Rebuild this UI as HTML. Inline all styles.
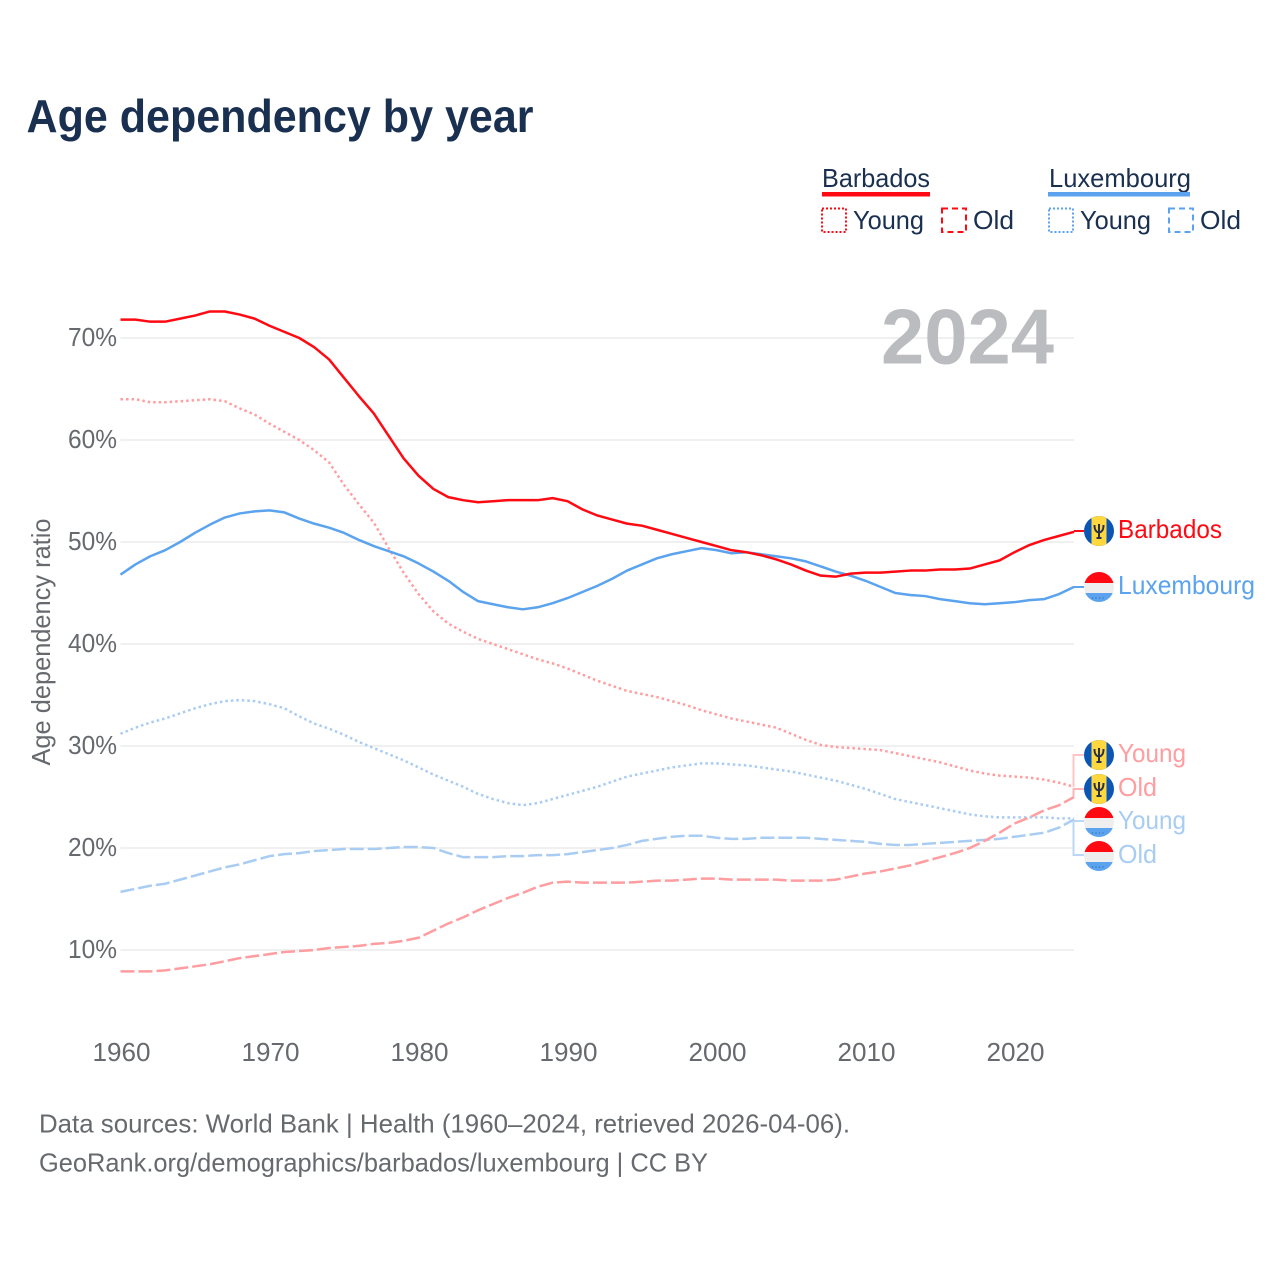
<!DOCTYPE html>
<html lang="en">
<head>
<meta charset="utf-8">
<title>Age dependency by year</title>
<style>
html,body{margin:0;padding:0;background:#fff;width:1280px;height:1280px;overflow:hidden}
svg{display:block}
text{font-family:"Liberation Sans",sans-serif}
</style>
</head>
<body>
<svg id="chart" width="1280" height="1280" viewBox="0 0 1280 1280" xmlns="http://www.w3.org/2000/svg">
<defs>
  <clipPath id="flag-clip"><circle cx="0" cy="0" r="15"/></clipPath>
  <g id="flag-bb" clip-path="url(#flag-clip)">
    <rect x="-15" y="-15" width="30" height="30" fill="#0b55b4"/>
    <rect x="-7.5" y="-15" width="15" height="30" fill="#ffd83f"/>
    <path d="M-4.5 -6 C-4.5 -1 -3 1 0 1.5 C3 1 4.5 -1 4.5 -6 M0 -7 V7 M-2.5 7 H2.5" fill="none" stroke="#29304a" stroke-width="2"/>
  </g>
  <g id="flag-lu" clip-path="url(#flag-clip)">
    <rect x="-15" y="-15" width="30" height="11" fill="#ff0a12"/>
    <rect x="-15" y="-4" width="30" height="10" fill="#eeeeee"/>
    <rect x="-15" y="6" width="30" height="10" fill="#5ba3ee"/>
    <path d="M-7 11 H7" stroke="#2b5c96" stroke-width="1" stroke-dasharray="1 2.5" fill="none"/>
  </g>
</defs>

<text x="26.5" y="132" font-size="46" font-weight="700" fill="#1a3050" textLength="507" lengthAdjust="spacingAndGlyphs">Age dependency by year</text>

<g font-size="26" fill="#1a3050">
  <text x="822" y="187" textLength="108" lengthAdjust="spacingAndGlyphs">Barbados</text>
  <rect x="822" y="192" width="108" height="4.5" fill="#ff0a12"/>
  <rect x="822" y="208.5" width="24" height="23.5" fill="none" stroke="#ff0a12" stroke-width="2" stroke-dasharray="2 2"/>
  <text x="853" y="229" textLength="71" lengthAdjust="spacingAndGlyphs">Young</text>
  <rect x="942" y="208.5" width="24" height="23.5" fill="none" stroke="#ff0a12" stroke-width="2" stroke-dasharray="6 4"/>
  <text x="973" y="229" textLength="41" lengthAdjust="spacingAndGlyphs">Old</text>
  <text x="1049" y="187" textLength="142" lengthAdjust="spacingAndGlyphs">Luxembourg</text>
  <rect x="1048" y="192" width="142" height="4.5" fill="#5ba3ee"/>
  <rect x="1049" y="208.5" width="24" height="23.5" fill="none" stroke="#5ba3ee" stroke-width="2" stroke-dasharray="2 2"/>
  <text x="1080" y="229" textLength="71" lengthAdjust="spacingAndGlyphs">Young</text>
  <rect x="1169" y="208.5" width="24" height="23.5" fill="none" stroke="#5ba3ee" stroke-width="2" stroke-dasharray="6 4"/>
  <text x="1200" y="229" textLength="41" lengthAdjust="spacingAndGlyphs">Old</text>
</g>

<g id="grid"></g>
<g id="yticks"></g>
<g id="xticks"></g>

<text x="881" y="363.5" font-size="78" font-weight="700" fill="#bbbcbf" textLength="173" lengthAdjust="spacingAndGlyphs">2024</text>

<text transform="translate(50 642) rotate(-90)" text-anchor="middle" font-size="26" fill="#666a6e" textLength="247" lengthAdjust="spacingAndGlyphs">Age dependency ratio</text>

<g id="series"></g>

<g fill="none" stroke-width="2">
  <path d="M1074 531 H1084" stroke="#ff0a12"/>
  <path d="M1074 587 H1084" stroke="#5ba3ee"/>
  <path d="M1073.5 787 V755 H1084" stroke="#ffc4c6"/>
  <path d="M1073.5 796 V789 H1084" stroke="#ffb4b6"/>
  <path d="M1073.5 821 H1084" stroke="#bcd7f5"/>
  <path d="M1073.5 821 V855 H1084" stroke="#bcd7f5"/>
</g>

<g font-size="26">
  <use href="#flag-bb" x="1099" y="531"/>
  <text x="1118" y="538" fill="#ff0a12" textLength="104" lengthAdjust="spacingAndGlyphs">Barbados</text>
  <use href="#flag-lu" x="1099" y="587"/>
  <text x="1118" y="594" fill="#5ba3ee" textLength="137" lengthAdjust="spacingAndGlyphs">Luxembourg</text>
  <use href="#flag-bb" x="1099" y="755"/>
  <text x="1118" y="762" fill="#ff9da0" textLength="68" lengthAdjust="spacingAndGlyphs">Young</text>
  <use href="#flag-bb" x="1099" y="789"/>
  <text x="1118" y="796" fill="#ff9da0" textLength="39" lengthAdjust="spacingAndGlyphs">Old</text>
  <use href="#flag-lu" x="1099" y="822"/>
  <text x="1118" y="829" fill="#a9ccf3" textLength="68" lengthAdjust="spacingAndGlyphs">Young</text>
  <use href="#flag-lu" x="1099" y="856"/>
  <text x="1118" y="863" fill="#a9ccf3" textLength="39" lengthAdjust="spacingAndGlyphs">Old</text>
</g>

<g font-size="26" fill="#666a6e">
  <text x="39" y="1132.5" textLength="811" lengthAdjust="spacingAndGlyphs">Data sources: World Bank | Health (1960–2024, retrieved 2026-04-06).</text>
  <text x="39" y="1171.5" textLength="669" lengthAdjust="spacingAndGlyphs">GeoRank.org/demographics/barbados/luxembourg | CC BY</text>
</g>
</svg>

<script>
var startYear = 1960;
var yTickValues = [10, 20, 30, 40, 50, 60, 70];
var xTickValues = [1960, 1970, 1980, 1990, 2000, 2010, 2020];

var barbadosTotal = [71.8,71.8,71.6,71.6,71.9,72.2,72.6,72.6,72.3,71.9,71.2,70.6,70.0,69.1,67.9,66.1,64.3,62.6,60.4,58.2,56.5,55.2,54.4,54.1,53.9,54.0,54.1,54.1,54.1,54.3,54.0,53.2,52.6,52.2,51.8,51.6,51.2,50.8,50.4,50.0,49.6,49.2,49.0,48.7,48.3,47.8,47.2,46.7,46.6,46.9,47.0,47.0,47.1,47.2,47.2,47.3,47.3,47.4,47.8,48.2,49.0,49.7,50.2,50.6,51.0];
var luxembourgTotal = [46.8,47.8,48.6,49.2,50.0,50.9,51.7,52.4,52.8,53.0,53.1,52.9,52.3,51.8,51.4,50.9,50.2,49.6,49.1,48.6,47.9,47.1,46.2,45.1,44.2,43.9,43.6,43.4,43.6,44.0,44.5,45.1,45.7,46.4,47.2,47.8,48.4,48.8,49.1,49.4,49.2,48.9,49.0,48.8,48.6,48.4,48.1,47.6,47.1,46.7,46.2,45.6,45.0,44.8,44.7,44.4,44.2,44.0,43.9,44.0,44.1,44.3,44.4,44.9,45.6];
var barbadosYoung = [64.0,64.0,63.7,63.7,63.8,63.9,64.0,63.8,63.1,62.5,61.6,60.8,60.0,59.0,57.8,55.6,53.7,51.9,49.4,47.0,44.9,43.2,42.0,41.2,40.5,40.0,39.5,39.0,38.5,38.1,37.6,37.0,36.4,35.9,35.4,35.1,34.8,34.4,34.0,33.5,33.1,32.7,32.4,32.1,31.8,31.2,30.6,30.1,29.9,29.8,29.7,29.6,29.3,29.0,28.7,28.4,28.0,27.6,27.3,27.1,27.0,26.9,26.7,26.4,26.0];
var barbadosOld = [7.9,7.9,7.9,8.0,8.2,8.4,8.6,8.9,9.2,9.4,9.6,9.8,9.9,10.0,10.2,10.3,10.4,10.6,10.7,10.9,11.2,11.9,12.6,13.2,13.9,14.5,15.1,15.6,16.2,16.6,16.7,16.6,16.6,16.6,16.6,16.7,16.8,16.8,16.9,17.0,17.0,16.9,16.9,16.9,16.9,16.8,16.8,16.8,16.9,17.2,17.5,17.7,18.0,18.3,18.7,19.1,19.5,20.0,20.7,21.5,22.4,23.0,23.7,24.2,25.0];
var luxembourgYoung = [31.2,31.8,32.3,32.7,33.2,33.7,34.1,34.4,34.5,34.4,34.1,33.7,32.9,32.2,31.7,31.1,30.4,29.8,29.2,28.6,27.9,27.2,26.6,26.0,25.3,24.8,24.4,24.2,24.4,24.8,25.2,25.6,26.0,26.5,27.0,27.3,27.6,27.9,28.1,28.3,28.3,28.2,28.1,27.9,27.7,27.5,27.2,26.9,26.6,26.2,25.8,25.3,24.8,24.5,24.2,23.9,23.6,23.3,23.1,23.0,23.0,23.0,23.0,22.9,22.9];
var luxembourgOld = [15.7,16.0,16.3,16.5,16.9,17.3,17.7,18.1,18.4,18.8,19.2,19.4,19.5,19.7,19.8,19.9,19.9,19.9,20.0,20.1,20.1,20.0,19.5,19.1,19.1,19.1,19.2,19.2,19.3,19.3,19.4,19.6,19.8,20.0,20.3,20.7,20.9,21.1,21.2,21.2,21.0,20.9,20.9,21.0,21.0,21.0,21.0,20.9,20.8,20.7,20.6,20.4,20.3,20.3,20.4,20.5,20.6,20.7,20.8,20.9,21.1,21.3,21.5,22.0,22.8];

var SVG_NS = 'http://www.w3.org/2000/svg';
function xScale(year) { return 120.5 + (year - 1960) * 14.9; }
function yScale(value) { return 950 - (value - 10) * 10.2; }

var grid = document.getElementById('grid');
var yticks = document.getElementById('yticks');
var xticks = document.getElementById('xticks');
var seriesGroup = document.getElementById('series');

yTickValues.forEach(function (v) {
  var line = document.createElementNS(SVG_NS, 'line');
  
  
  line.setAttribute('x1', xScale(1960));
  line.setAttribute('x2', xScale(2024));
  line.setAttribute('y1', yScale(v));
  line.setAttribute('y2', yScale(v));
  line.setAttribute('stroke', '#f0f0f0');
  line.setAttribute('stroke-width', '2');
  grid.appendChild(line);

  var label = document.createElementNS(SVG_NS, 'text');
  
  
  label.setAttribute('x', 117);
  label.setAttribute('y', yScale(v) + 8);
  label.setAttribute('text-anchor', 'end');
  label.setAttribute('font-size', '26');
  label.setAttribute('fill', '#666a6e');
  label.setAttribute('textLength', '49');
  label.setAttribute('lengthAdjust', 'spacingAndGlyphs');
  label.textContent = v + '%';
  yticks.appendChild(label);
});

xTickValues.forEach(function (y) {
  var label = document.createElementNS(SVG_NS, 'text');
  
  
  label.setAttribute('x', xScale(y) + 1);
  label.setAttribute('y', 1061);
  label.setAttribute('text-anchor', 'middle');
  label.setAttribute('font-size', '26');
  label.setAttribute('fill', '#666a6e');
  label.setAttribute('textLength', '58');
  label.setAttribute('lengthAdjust', 'spacingAndGlyphs');
  label.textContent = y;
  xticks.appendChild(label);
});

function drawSeries(name, values, color, dash) {
  var d = values.map(function (v, i) {
    return (i ? 'L' : 'M') + xScale(startYear + i).toFixed(2) + ' ' + yScale(v).toFixed(2);
  }).join(' ');
  var path = document.createElementNS(SVG_NS, 'path');
  
  
  path.setAttribute('d', d);
  path.setAttribute('fill', 'none');
  path.setAttribute('stroke', color);
  path.setAttribute('stroke-width', '2.5');
  path.setAttribute('stroke-linejoin', 'round');
  if (dash) path.setAttribute('stroke-dasharray', dash);
  seriesGroup.appendChild(path);
}

drawSeries('line-luxembourg-young', luxembourgYoung, '#a9ccf3', '2.5 3');
drawSeries('line-luxembourg-old', luxembourgOld, '#a9ccf3', '14 4');
drawSeries('line-barbados-young', barbadosYoung, '#ff9da0', '2.5 3');
drawSeries('line-barbados-old', barbadosOld, '#ff9da0', '14 4');
drawSeries('line-luxembourg-total', luxembourgTotal, '#5ba3ee', null);
drawSeries('line-barbados-total', barbadosTotal, '#ff0a12', null);
</script>
</body>
</html>
